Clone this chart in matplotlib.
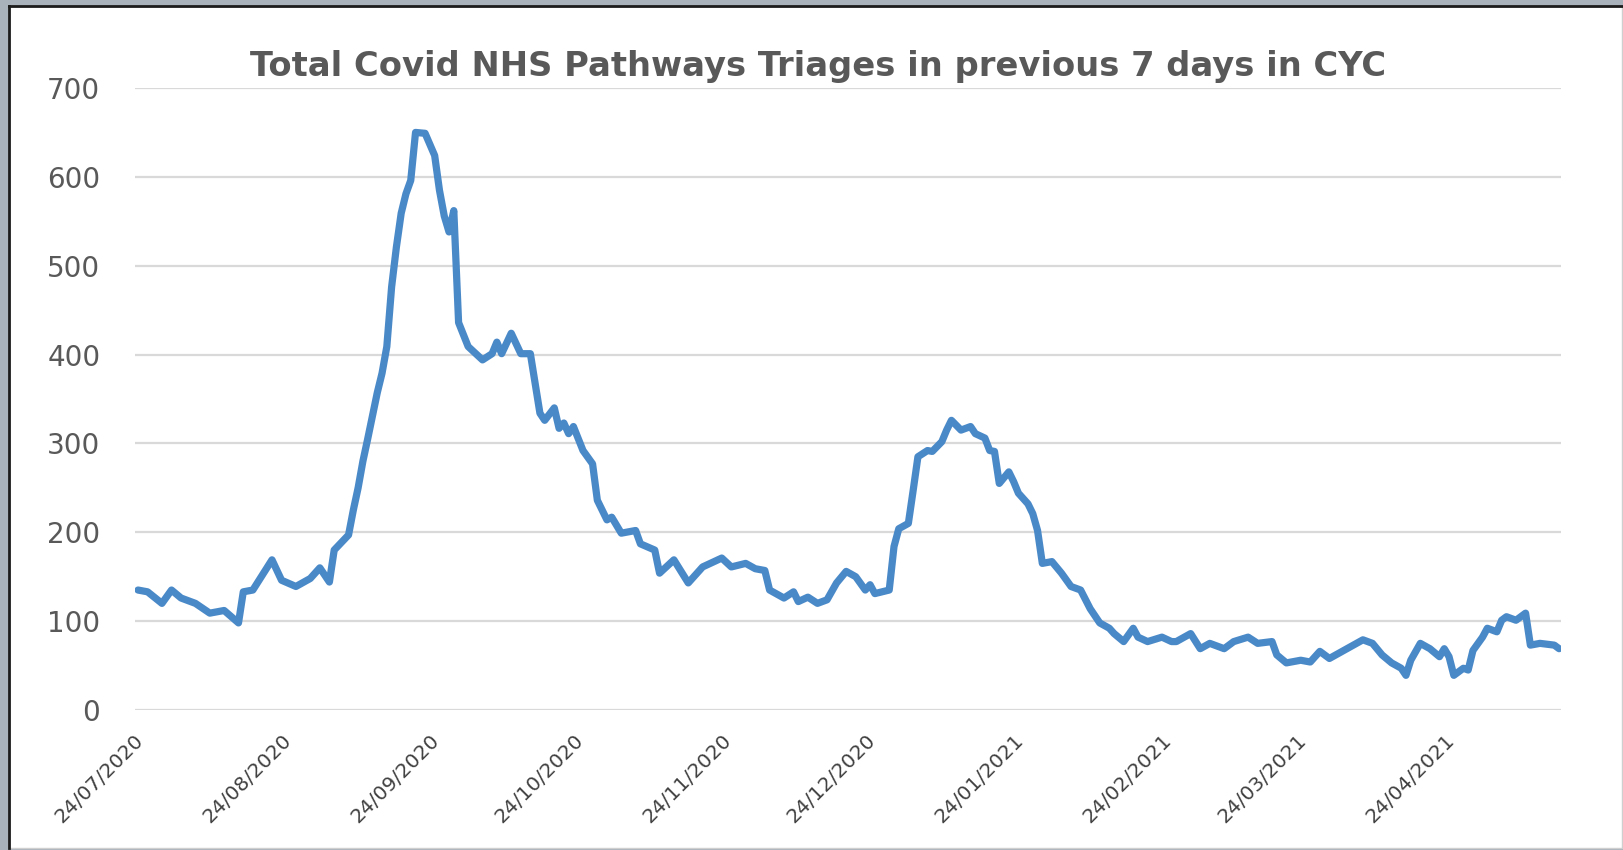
import matplotlib
matplotlib.use("Agg")
import matplotlib.pyplot as plt
import matplotlib.dates as mdates
from matplotlib.lines import Line2D
from matplotlib.patches import Rectangle
from matplotlib.transforms import ScaledTranslation
import numpy as np
import pandas as pd

TITLE = "Total Covid NHS Pathways Triages in previous 7 days in CYC"
START = "2020-07-24"

# days since 24/07/2020 and the triage count
days = [0, 2, 5, 7, 9, 12, 15, 18, 21, 22, 24, 28, 30, 33, 36, 38, 40, 41, 44,
        45, 46, 47, 48, 50, 51, 52, 53, 54, 55, 56, 57, 58, 60, 62, 63, 64, 65,
        66, 67, 69, 72, 74, 75, 76, 78, 80, 82, 84, 85, 87, 88, 89, 90, 91, 93,
        95, 96, 98, 99, 101, 104, 105, 108, 109, 112, 115, 118, 122, 124, 127,
        129, 131, 132, 135, 137, 138, 140, 142, 144, 146, 148, 150, 152, 153,
        154, 157, 158, 159, 161, 162, 163, 165, 166, 168, 169, 170, 172, 174,
        175, 177, 178, 179, 180, 182, 183, 184, 186, 187, 188, 189, 191, 193,
        195, 197, 199, 201, 203, 204, 206, 208, 209, 211, 214, 216, 217, 220,
        222, 224, 227, 229, 232, 234, 237, 238, 240, 243, 245, 247, 249, 252,
        256, 258, 260, 262, 264, 265, 266, 268, 270, 272, 273, 274, 275, 277,
        278, 279, 281, 282, 284, 285, 286, 288, 290, 291, 293, 296, 297]
triages = [135, 133, 120, 135, 126, 120, 109, 112, 98, 133, 135, 169, 146, 139,
           148, 160, 144, 180, 197, 225, 250, 280, 305, 357, 379, 409, 476, 521,
           559, 581, 596, 650, 649, 624, 585, 556, 538, 562, 436, 409, 394, 401,
           414, 401, 424, 401, 401, 334, 326, 340, 317, 323, 311, 319, 292, 277,
           236, 214, 217, 199, 202, 187, 180, 154, 169, 143, 161, 171, 161, 165,
           159, 157, 135, 126, 133, 122, 127, 120, 124, 143, 156, 150, 135, 141,
           131, 135, 184, 204, 210, 247, 285, 292, 291, 302, 315, 326, 315, 319,
           311, 306, 292, 291, 255, 268, 257, 244, 232, 221, 202, 165, 167, 154,
           139, 135, 114, 98, 92, 86, 77, 92, 82, 77, 82, 77, 77, 86, 69, 75, 69,
           77, 82, 75, 77, 62, 53, 56, 54, 66, 58, 67, 79, 75, 62, 53, 47, 39, 56,
           75, 69, 60, 69, 60, 39, 47, 45, 67, 82, 92, 88, 101, 105, 101, 109, 73,
           75, 73, 69]

tick_dates = ["2020-07-24", "2020-08-24", "2020-09-24", "2020-10-24",
              "2020-11-24", "2020-12-24", "2021-01-24", "2021-02-24",
              "2021-03-24", "2021-04-24"]
y_ticks = [0, 100, 200, 300, 400, 500, 600, 700]

W, H = 1624, 850
fig = plt.figure(figsize=(W / 100, H / 100), dpi=100)
fig.patch.set_facecolor("#a9b1ba")

# white chart panel with a dark top/left edge, kept behind the axes
fig.add_artist(Rectangle((9 / W, 2 / H), (1622 - 9) / W, (844 - 2) / H,
                         transform=fig.transFigure, facecolor="white",
                         edgecolor="#cfcfcf", lw=1, zorder=-5))
fig.add_artist(Line2D([9 / W, 1622 / W], [844 / H, 844 / H],
                      transform=fig.transFigure, color="#1c1c1c", lw=2,
                      zorder=-4))
fig.add_artist(Line2D([9 / W, 9 / W], [2 / H, 844 / H],
                      transform=fig.transFigure, color="#1c1c1c", lw=2,
                      zorder=-4))

ax = fig.add_axes([135 / W, (H - 710) / H, 1426 / W, 622 / H])
ax.set_facecolor("none")

start = pd.Timestamp(START)
dates = start + pd.to_timedelta(days, unit="D")
ax.plot(dates, triages, color="#4a89c8", lw=5.2, solid_joinstyle="round",
        solid_capstyle="round")

ax.set_ylim(0, 700)
ax.set_yticks(y_ticks)
ax.set_xlim(start - pd.Timedelta(days=0.63), start + pd.Timedelta(days=297.4))
ax.set_xticks(pd.to_datetime(tick_dates))
ax.xaxis.set_major_formatter(mdates.DateFormatter("%d/%m/%Y"))

ax.grid(axis="y", color="#d9d9d9", lw=1.6)
ax.set_axisbelow(True)
for s in ax.spines.values():
    s.set_visible(False)

ax.tick_params(axis="y", length=0, pad=25, labelsize=20, labelcolor="#595959")
ax.tick_params(axis="x", length=0, pad=15, labelsize=14.5, labelcolor="#404040")
shift = ScaledTranslation(9 / 100, 0, fig.dpi_scale_trans)
for lab in ax.get_xticklabels():
    lab.set_rotation(45)
    lab.set_ha("right")
    lab.set_va("top")
    lab.set_transform(lab.get_transform() + shift)

fig.text(818 / W, (H - 76) / H, TITLE, ha="center", va="baseline",
         fontsize=24.3, fontweight="bold", color="#595959",
         family="DejaVu Sans")

fig.savefig("out.png", dpi=100, facecolor=fig.get_facecolor())
